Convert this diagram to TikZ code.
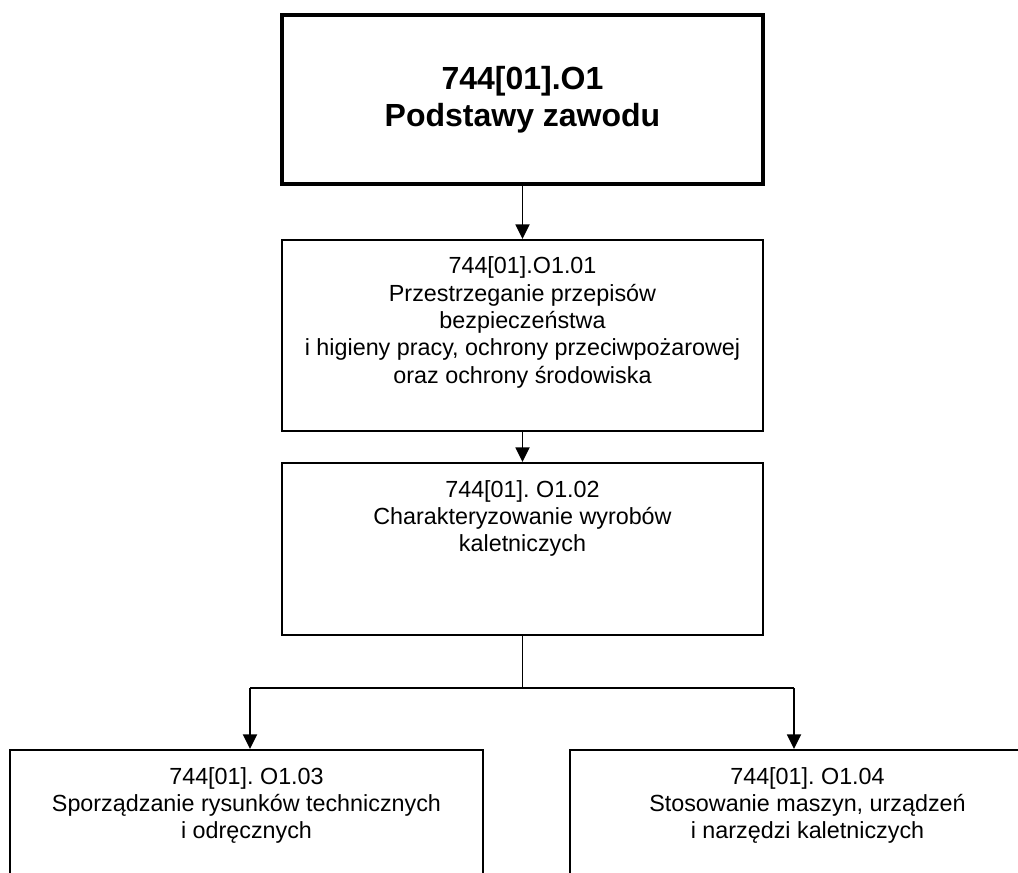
\documentclass[tikz,border=0pt]{standalone}
\usepackage{fontspec}
\setmainfont{Liberation Sans}
\usetikzlibrary{arrows.meta}
\frenchspacing
\newcommand{\boxtxt}[3]{\begin{minipage}[c][#2][t]{#1}\centering\rule{0pt}{25.5pt}#3\end{minipage}}
\tikzset{
  mainbox/.style={draw, line width=3.5pt, align=center, inner sep=0pt,
    minimum width=360.75pt, minimum height=126.75pt,
    font=\fontsize{24pt}{28pt}\selectfont\bfseries},
  subbox/.style={draw, line width=1.6pt, inner sep=0pt,
    font=\fontsize{17.5pt}{20.5pt}\selectfont},
  conn/.style={line width=1.4pt},
  arr/.style={conn, -{Triangle[length=11pt,width=10.5pt]}}
}
\begin{document}
\begin{tikzpicture}[x=0.75pt,y=-0.75pt]
\useasboundingbox (0,0) rectangle (1018,873);
\clip (0,0) rectangle (1018,873);
\node[mainbox] (top) at (522.5,99.5) {744[01].O1\\Podstawy zawodu};
\node[subbox] (b1) at (522.5,335.5) {\boxtxt{360.75pt}{143.25pt}{744[01].O1.01\\Przestrzeganie przepisów\\bezpieczeństwa\\i higieny pracy, ochrony przeciwpożarowej\\oraz ochrony środowiska}};
\node[subbox] (b2) at (522.5,549) {\boxtxt{360.75pt}{129pt}{744[01]. O1.02\\Charakteryzowanie wyrobów\\kaletniczych}};
\node[subbox] (b4) at (246.5,850) {\boxtxt{354.75pt}{150pt}{744[01]. O1.03\\Sporządzanie rysunków technicznych\\i odręcznych}};
\node[subbox] (b5) at (807.5,850) {\boxtxt{356.25pt}{150pt}{744[01]. O1.04\\Stosowanie maszyn, urządzeń\\i narzędzi kaletniczych}};
\coordinate (jl) at (250,688);
\coordinate (jr) at (794,688);
\draw[arr] (top.south) -- (b1.north);
\draw[arr] (b1.south) -- (b2.north);
\draw[conn] (b2.south) -- (b2.south |- jl);
\draw[conn] (jl) -- (jr);
\draw[arr] (jl) -- (jl |- b4.north);
\draw[arr] (jr) -- (jr |- b5.north);
\end{tikzpicture}
\end{document}
